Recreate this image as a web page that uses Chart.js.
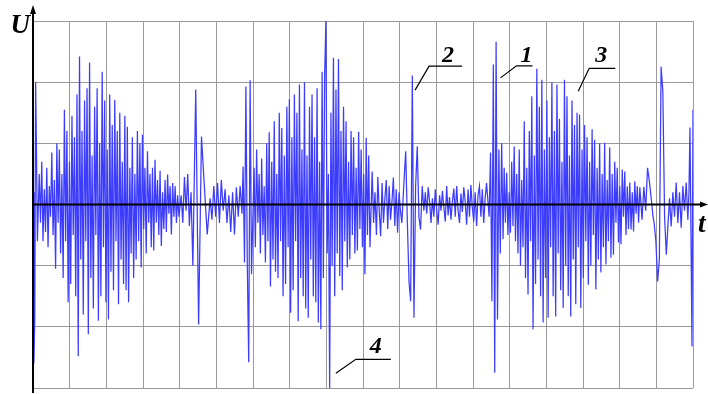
<!DOCTYPE html>
<html>
<head>
<meta charset="utf-8">
<script src="https://cdn.jsdelivr.net/npm/chart.js@4/dist/chart.umd.min.js"></script>
<style>
  html, body { margin: 0; padding: 0; background: #ffffff; }
  #wrap { width: 708px; height: 394px; }
</style>
</head>
<body>
<div id="wrap"><canvas id="c" width="708" height="394"></canvas></div>
<script>
// Recorded voltage U(t): the trace is stored as consecutive pieces.
// Each piece has a start and end time; its samples are spread evenly between them.
const segStart = [0.00, 0.17, 4.04, 4.36, 4.88, 5.73, 6.03, 9.25, 10.12, 10.70, 12.44, 12.85, 16.61, 16.94, 17.36, 17.89];
const segEnd   = [0.12, 3.98, 4.31, 4.83, 5.70, 5.96, 9.19, 10.06, 10.66, 12.37, 12.82, 16.55, 16.91, 17.32, 17.86, 18.00];

const onsetU = [0.2, -2.6, -1.9, 2.0, 0.8, -0.6];
const burst1U = [
  0.5, -0.3, 0.7, -0.6, 0.25, -0.45, 0.6, -0.7, 0.3, -0.2,
  0.85, -0.5, 0.4, -1.05, 1.0, -0.3, 0.9, -0.8, 0.5, -1.2,
  1.55, -0.6, 1.2, -1.6, 0.7, -1.3, 1.45, -0.5, 1.1, -1.5,
  1.8, -2.48, 2.42, -0.9, 1.2, -1.8, 1.7, -0.6, 1.9, -2.12,
  2.32, -1.2, 0.8, -1.7, 1.6, -0.5, 1.9, -1.9, 1.0, -1.5,
  2.17, -0.7, 1.7, -1.6, 0.9, -1.88, 1.8, -1.1, 1.3, -1.4,
  1.71, -0.6, 1.2, -1.63, 1.5, -0.9, 0.7, -1.3, 1.45, -1.4,
  1.27, -1.6, 0.6, -0.8, 1.1, -1.2, 0.5, -0.9, 1.2, -0.6,
  1.0, -1.03, 1.14, -0.4, 0.6, -0.8, 0.87, -0.3, 0.5, -0.7,
  0.6, -0.75, 0.73, -0.3, 0.4, -0.5, 0.55, -0.68, 0.2, -0.4,
  0.4, -0.45, 0.49, -0.15, 0.3, -0.49, 0.35, -0.2, 0.3, -0.3, 0.15, -0.2
];
const tail1U = [0.15, -0.3, 0.45, -0.1, 0.5, -0.35, 0.2];
const pulseAU = [-1.0, 1.88, -1.96, 1.11, 0.3, -0.49, 0.1];
const quietAU = [-0.25, 0.3, -0.2, 0.35, -0.3, 0.4, -0.1, 0.25, -0.3, 0.15, -0.45, 0.2, -0.49, 0.28, -0.2, 0.3, -0.15];
const pulseBU = [0.62, -0.95, 1.93, -1.0, -2.58, 2.03, -1.14];
const burst2U = [
  0.6, -0.7, 0.9, -0.3, 0.5, -0.8, 0.75, -0.5, 0.3, -0.95,
  1.0, -0.6, 1.18, -1.34, 0.7, -0.9, 1.36, -1.1, 0.5, -1.2,
  1.5, -0.6, 1.25, -1.5, 0.8, -1.3, 1.6, -0.7, 1.72, -1.77,
  1.1, -1.4, 1.8, -0.6, 1.5, -1.91, 1.96, -1.2, 0.9, -1.5,
  2.0, -1.7, 0.8, -1.85, 1.6, -0.9, 1.8, -1.5, 1.1, -1.6,
  1.9, -1.93, 0.7, -2.04, 2.17, -1.2, 2.1,
  3.0, -0.8, 0.5, -3.0, 1.5, -1.0, 2.4,
  -1.5, 1.88, -0.8, 2.38, -1.17, 1.2, -1.4, 1.6, -0.6,
  1.36, -1.03, 0.7, -0.9, 1.2, -0.5, 1.1, -0.8, 0.6, -0.75,
  1.19, -0.4, 0.9, -0.7, 0.5, -1.14, 1.09, -0.5, 0.8, -0.7
];
const tail2U = [0.54, -0.3, 0.2, -0.5, 0.45, -0.1, -0.52, 0.35, -0.3, 0.1, 0.4,
                -0.4, 0.3, -0.25, 0.05, 0.44, -0.35, 0.25, -0.46, 0.2, -0.1, -0.3];
const pulse2U = [0.4, 0.87, -0.3, -1.26, -1.58, 2.11, -1.85, 0.3, 0.95, -0.2, -0.41, 0.3, -0.1];
const quietBU = [
  0.2, -0.15, 0.28, 0.05, -0.3, 0.1, -0.2, 0.25, -0.1, -0.33,
  0.15, -0.1, 0.22, -0.05, -0.28, 0.3, -0.18, 0.12, -0.25, 0.05,
  0.26, -0.2, 0.3, -0.1, -0.3, 0.18, -0.12, 0.28, 0.05, -0.33,
  0.25, -0.2, 0.32, -0.05, -0.28, 0.2, -0.35, 0.15, 0.3, -0.2,
  0.25, -0.3, 0.1, 0.35
];
const pulse1U = [-0.2, 0.85, -1.58, 2.29, -2.75, 2.66, -1.88, 0.9, -0.8, 1.0, -0.57];
const burst3U = [
  0.6, -0.3, 0.52, -0.5, 0.2, -0.46, 0.7, -0.35, 0.95, -0.6,
  0.5, -0.8, 0.9, -1.0, 0.4, -0.7, 1.36, -1.2, 0.6, -1.47,
  1.2, -0.6, 1.77, -2.04, 0.8, -1.3, 2.22, -0.9, 1.6, -1.5,
  2.04, -1.93, 0.9, -1.2, 1.7, -1.85, 1.1, -0.7, 2.0, -1.5,
  1.2, -1.83, 1.96, -0.8, 1.4, -1.4, 0.7, -1.69, 2.04, -1.0,
  1.77, -1.5, 0.8, -1.83, 1.7, -0.9, 1.3, -1.63, 1.5, -0.7,
  1.47, -1.69, 0.9, -1.2, 1.3, -0.6, 1.1, -1.31, 0.7, -1.0,
  1.23, -0.5, 1.06, -1.39, 0.6, -0.9, 1.0, -1.11, 0.5, -0.7,
  1.01, -0.98, 0.4, -0.6, 0.93, -0.87, 0.5, -0.82, 0.7, -0.3,
  0.6, -0.62, 0.3, -0.65, 0.57, -0.2, 0.54, -0.5, 0.3, -0.4,
  0.36, -0.41, 0.2, -0.44, 0.38, -0.15, 0.3, -0.3, 0.28
];
const tail3U = [-0.25, 0.29, -0.1, 0.6, 0.38, 0.1, -0.2];
const pulseCU = [-0.3, -0.6, -1.26, -0.9, 2.25, 1.85, -0.2, -0.82, -0.3];
const quietCU = [0.1, -0.36, 0.2, -0.2, 0.36, -0.3, 0.2, -0.38, 0.3, -0.1, 0.36, -0.25];
const pulseDU = [0.2, 1.26, -0.5, -2.32, 1.55];

const segValues = [onsetU, burst1U, tail1U, pulseAU, quietAU, pulseBU, burst2U, tail2U,
                   pulse2U, quietBU, pulse1U, burst3U, tail3U, pulseCU, quietCU, pulseDU];

// Numbered call-outs: the point on the trace each leader line touches.
const calloutNames = ['1', '2', '3', '4'];
const calloutT = [12.75, 10.42, 14.87, 8.26];
const calloutU = [2.07, 1.87, 1.85, -2.76];

// Axis range and grid spacing.
const tMin = 0, tMax = 18, uMin = -3, uMax = 3;

const points = [];
segValues.forEach((vals, s) => {
  const n = vals.length;
  const dt = n > 1 ? (segEnd[s] - segStart[s]) / (n - 1) : 0;
  vals.forEach((u, i) => points.push({ x: segStart[s] + i * dt, y: u }));
});

const SERIF = '"Liberation Serif", "Times New Roman", serif';

// Leader geometry per call-out (pixel offsets from the touched point).
const leaderGeom = {
  '1': { elbow: [16, -12], end: [32, -12], text: [26, -16] },
  '2': { elbow: [14, -24], end: [47, -24], text: [33, -28] },
  '3': { elbow: [11, -23], end: [37, -23], text: [23, -29] },
  '4': { elbow: [20, -14], end: [55, -14], text: [40, -20] }
};

const overlay = {
  id: 'overlay',
  afterDatasetsDraw(chart) {
    const { ctx, chartArea: a, scales } = chart;
    const xs = scales.x, ys = scales.y;
    const x0 = xs.getPixelForValue(0);
    const y0 = ys.getPixelForValue(0);
    ctx.save();
    ctx.strokeStyle = '#000';
    ctx.fillStyle = '#000';
    ctx.lineWidth = 2;
    // time axis
    ctx.beginPath();
    ctx.moveTo(x0, y0);
    ctx.lineTo(a.right + 10, y0);
    ctx.stroke();
    ctx.beginPath();
    ctx.moveTo(a.right + 15, y0);
    ctx.lineTo(a.right + 7, y0 - 3);
    ctx.lineTo(a.right + 7, y0 + 3);
    ctx.closePath();
    ctx.fill();
    // voltage axis
    ctx.beginPath();
    ctx.moveTo(x0, a.bottom + 5);
    ctx.lineTo(x0, a.top - 10);
    ctx.stroke();
    ctx.beginPath();
    ctx.moveTo(x0, a.top - 16);
    ctx.lineTo(x0 - 3, a.top - 7);
    ctx.lineTo(x0 + 3, a.top - 7);
    ctx.closePath();
    ctx.fill();

    // axis names
    ctx.font = 'italic bold 27px ' + SERIF;
    ctx.textAlign = 'right';
    ctx.textBaseline = 'alphabetic';
    ctx.fillText('U', x0 - 3, a.top + 12);
    ctx.textAlign = 'left';
    ctx.fillText('t', a.right + 5, y0 + 27);

    // call-outs
    ctx.lineWidth = 1.2;
    ctx.font = 'italic bold 24px ' + SERIF;
    ctx.textAlign = 'center';
    calloutNames.forEach((name, i) => {
      const px = xs.getPixelForValue(calloutT[i]);
      const py = ys.getPixelForValue(calloutU[i]);
      const g = leaderGeom[name];
      ctx.beginPath();
      ctx.moveTo(px, py);
      ctx.lineTo(px + g.elbow[0], py + g.elbow[1]);
      ctx.lineTo(px + g.end[0], py + g.end[1]);
      ctx.stroke();
      ctx.fillText(name, px + g.text[0], py + g.text[1]);
    });
    ctx.restore();
  }
};

new Chart(document.getElementById('c'), {
  type: 'line',
  data: {
    datasets: [{
      data: points,
      borderColor: 'rgb(60,60,255)',
      borderWidth: 1.25,
      pointRadius: 0,
      tension: 0,
      fill: false
    }]
  },
  options: {
    responsive: false,
    animation: false,
    events: [],
    layout: { padding: { left: 33, right: 15, top: 21, bottom: 6 } },
    plugins: { legend: { display: false }, tooltip: { enabled: false }, title: { display: false } },
    scales: {
      x: {
        type: 'linear', min: tMin, max: tMax,
        ticks: { display: false, stepSize: 1 },
        grid: { color: '#9a9a9a', lineWidth: 1, drawTicks: false },
        border: { display: false }
      },
      y: {
        type: 'linear', min: uMin, max: uMax,
        ticks: { display: false, stepSize: 1 },
        grid: { color: '#9a9a9a', lineWidth: 1, drawTicks: false },
        border: { display: false }
      }
    }
  },
  plugins: [overlay]
});
</script>
</body>
</html>
